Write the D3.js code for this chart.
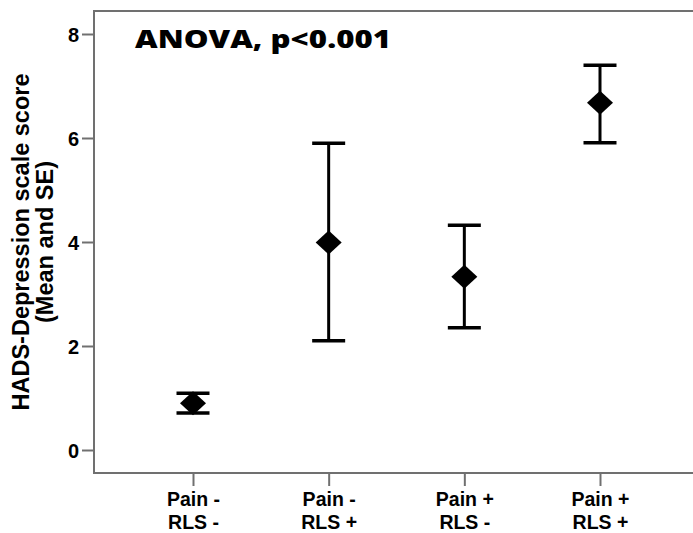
<!DOCTYPE html>
<html>
<head>
<meta charset="utf-8">
<script src="https://cdn.jsdelivr.net/npm/d3@7"></script>
<style>
  body { margin: 0; background: #fff; }
  text { font-family: "Liberation Sans", Arial, sans-serif; font-weight: bold; }
</style>
</head>
<body>
<script>
// groups (two-line tick labels)
var groups = ["Pain -|RLS -", "Pain -|RLS +", "Pain +|RLS -", "Pain +|RLS +"];
var means  = [0.90, 3.99, 3.33, 6.68];
var lower  = [0.71, 2.10, 2.35, 5.91];
var upper  = [1.09, 5.90, 4.32, 7.40];
var yTicks = [0, 2, 4, 6, 8];

var data = groups.map(function(g, i) {
  return { group: g, mean: means[i], lo: lower[i], hi: upper[i] };
});

var width = 693, height = 533;
var frame = { left: 94, top: 11, right: 700, bottom: 473 };

var svg = d3.select("body").append("svg")
    .attr("width", width)
    .attr("height", height);

// scales
var x = d3.scalePoint()
    .domain(groups)
    .range([193, 600]);
var y = d3.scaleLinear()
    .domain([0, 8])
    .range([450, 34]);

// plot frame
svg.append("rect")
    .attr("x", frame.left)
    .attr("y", frame.top)
    .attr("width", frame.right - frame.left)
    .attr("height", frame.bottom - frame.top)
    .attr("fill", "none")
    .attr("stroke", "#707070")
    .attr("stroke-width", 2);

// y axis
var yAxis = svg.append("g")
    .attr("transform", "translate(" + frame.left + ",0)")
    .call(d3.axisLeft(y).tickValues(yTicks).tickSize(12).tickPadding(3));
yAxis.select(".domain").remove();
yAxis.selectAll(".tick line").attr("stroke", "#707070").attr("stroke-width", 2);
yAxis.selectAll(".tick text")
    .attr("fill", "#000")
    .style("font-size", "20px")
    .attr("dy", "0.36em");

// x axis, labels drawn as two separate lines
var xAxis = svg.append("g")
    .attr("transform", "translate(0," + frame.bottom + ")")
    .call(d3.axisBottom(x).tickSize(13).tickFormat(""));
xAxis.select(".domain").remove();
xAxis.selectAll(".tick line").attr("stroke", "#707070").attr("stroke-width", 2);
xAxis.selectAll(".tick").each(function(d) {
  var tick = d3.select(this);
  d.split("|").forEach(function(l, i) {
    tick.append("text")
        .attr("fill", "#000")
        .attr("text-anchor", "middle")
        .attr("y", 33 + i * 22.5)
        .style("font-size", "19.5px")
        .text(l);
  });
});

// error bars
var bars = svg.append("g").selectAll("g")
    .data(data)
  .enter().append("g");

bars.append("line")
    .attr("x1", function(d) { return x(d.group); })
    .attr("x2", function(d) { return x(d.group); })
    .attr("y1", function(d) { return y(d.lo); })
    .attr("y2", function(d) { return y(d.hi); })
    .attr("stroke", "#000")
    .attr("stroke-width", 3);

["lo", "hi"].forEach(function(k) {
  bars.append("line")
      .attr("x1", function(d) { return x(d.group) - 16.5; })
      .attr("x2", function(d) { return x(d.group) + 16.5; })
      .attr("y1", function(d) { return y(d[k]); })
      .attr("y2", function(d) { return y(d[k]); })
      .attr("stroke", "#000")
      .attr("stroke-width", 3.5);
});

// diamond markers
bars.append("path")
    .attr("d", function(d) {
      var cx = x(d.group), cy = y(d.mean);
      return "M" + (cx - 13) + "," + cy + "L" + cx + "," + (cy - 12) +
             "L" + (cx + 13) + "," + cy + "L" + cx + "," + (cy + 12) + "Z";
    })
    .attr("fill", "#000");

// y axis title
var yTitle = svg.append("text")
    .attr("transform", "translate(0,242) rotate(-90)")
    .attr("text-anchor", "middle")
    .attr("fill", "#000")
    .style("font-size", "23.5px");
yTitle.append("tspan").attr("x", 0).attr("y", 29).text("HADS-Depression scale score");
yTitle.append("tspan").attr("x", 0).attr("y", 53).text("(Mean and SE)");

// annotation
svg.append("text")
    .attr("x", 135)
    .attr("y", 48)
    .attr("fill", "#000")
    .attr("textLength", 256)
    .attr("lengthAdjust", "spacingAndGlyphs")
    .style("font-family", "'Open Sans', sans-serif")
    .style("font-weight", "800")
    .style("font-size", "25px")
    .text("ANOVA, p<0.001");
</script>
</body>
</html>
